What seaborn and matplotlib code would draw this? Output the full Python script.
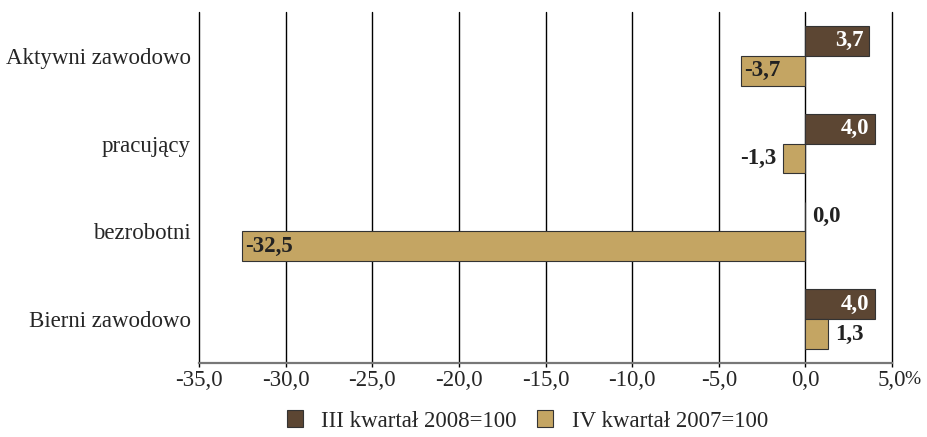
import matplotlib
matplotlib.use("Agg")
import matplotlib.pyplot as plt
import matplotlib.transforms as mtrans
import seaborn as sns
import pandas as pd
from matplotlib.patches import Patch

categories = ["Aktywni zawodowo", "pracujący", "bezrobotni", "Bierni zawodowo"]
series_names = ["III kwartał 2008=100", "IV kwartał 2007=100"]
q3_2008 = [3.7, 4.0, 0.0, 4.0]
q4_2007 = [-3.7, -1.3, -32.5, 1.3]
x_ticks = [-35, -30, -25, -20, -15, -10, -5, 0, 5]

colors = ["#5C4633", "#C4A563"]

sns.set_theme(style="white")
plt.rcParams["font.family"] = ["Liberation Serif", "DejaVu Serif"]

df = pd.DataFrame({
    "cat": categories * 2,
    "val": q3_2008 + q4_2007,
    "series": [series_names[0]] * 4 + [series_names[1]] * 4,
})

fig = plt.figure(figsize=(9.27, 4.37), dpi=100)
ax = fig.add_axes([199/927, 1 - 363/437, (892 - 199)/927, (363 - 12)/437])

sns.barplot(data=df, y="cat", x="val", hue="series", orient="h",
            palette=colors, saturation=1, width=0.68, edgecolor="#333333", linewidth=0.8,
            ax=ax, legend=False, zorder=3)

ax.set_xlim(-35, 5)
ax.set_ylim(3.5, -0.5)
ax.set_xticks(x_ticks)
ax.set_xticklabels([f"{t:.1f}".replace(".", ",") for t in x_ticks], fontsize=16.5)
trans = mtrans.blended_transform_factory(ax.transData, ax.transAxes)
ax.annotate("%", (5, 0), xycoords=trans, xytext=(9, -6), textcoords="offset points",
            ha="left", va="top", fontsize=14)
ax.set_xlabel("")
ax.set_ylabel("")
ax.tick_params(axis="y", labelsize=16.5, length=0, pad=6)
ax.tick_params(axis="x", length=3, width=1, color="black", direction="out", pad=2, bottom=True)
for t in x_ticks:
    ax.axvline(t, color="black", linewidth=1, zorder=1, clip_on=False)
for s in ["top", "right"]:
    ax.spines[s].set_visible(False)
ax.spines["left"].set_visible(False)
ax.spines["bottom"].set_color("#777777")
ax.spines["bottom"].set_linewidth(1.6)

# value labels
fs = 16.5
for ci, cont in enumerate(ax.containers):
    vals = q3_2008 if ci == 0 else q4_2007
    for bar, v in zip(cont, vals):
        y = bar.get_y() + bar.get_height() / 2
        txt = f"{v:.1f}".replace(".", ",")
        inside = abs(v) >= 3
        sign = 1 if v >= 0 else -1
        if inside:
            if ci == 0:
                ax.annotate(txt, (v, y), xytext=(-4 * sign, 0), textcoords="offset points",
                            ha="right" if sign > 0 else "left", va="center",
                            color="white", fontsize=fs, fontweight="bold", zorder=5)
            else:
                ax.annotate(txt, (v, y), xytext=(2 if sign < 0 else -2, 0), textcoords="offset points",
                            ha="left" if sign < 0 else "right", va="center",
                            color="#222222", fontsize=fs, fontweight="bold", zorder=5)
        else:
            ax.annotate(txt, (v, y), xytext=(5 * sign, 0), textcoords="offset points",
                        ha="left" if sign > 0 else "right", va="center",
                        color="#222222", fontsize=fs, fontweight="bold", zorder=5)

handles = [Patch(facecolor=c, edgecolor="#333333", linewidth=0.8) for c in colors]
fig.legend(handles, series_names, loc="center", bbox_to_anchor=(0.569, 1 - 421/437),
           ncol=2, frameon=False, fontsize=16.5, handlelength=0.7, handleheight=0.7,
           columnspacing=0.9, handletextpad=0.8)

fig.savefig("out.png", dpi=100)
